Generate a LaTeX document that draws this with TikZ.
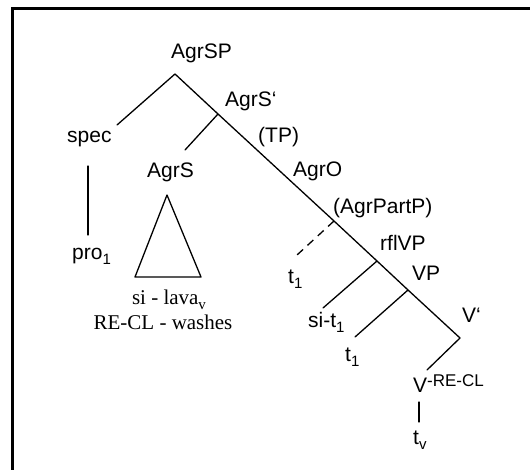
\documentclass[tikz,border=0pt]{standalone}
\usepackage{fontspec}
\setmainfont{Liberation Sans}
\newfontfamily\trserif{Liberation Serif}
\newcommand\trsize{\fontsize{21}{25}\selectfont}
\newcommand\trsub[1]{\raisebox{-5pt}{\fontsize{15}{15}\selectfont #1}}
\begin{document}
\begin{tikzpicture}[x=1pt,y=-1pt,
  lbl/.style={inner sep=0pt, anchor=base west, font=\trsize},
  gl/.style={inner sep=0pt, anchor=base, font=\trserif\trsize},
  edge/.style={line width=1.3pt, line cap=round, line join=round}]
\useasboundingbox (0,0) rectangle (530,470);
\draw[line width=2.6pt] (12.5,472) -- (12.5,8.5) -- (532,8.5);
% labels
\node[lbl] (agrsp) at (171,59) {AgrSP};
\node[lbl] (spec) at (67,143) {spec};
\node[lbl] (pro) at (72,260) {pro\trsub{1}};
\node[lbl] (agrsbar) at (225,107) {AgrS‘};
\node[lbl] (agrs) at (147,178) {AgrS};
\node[lbl] (tp) at (258,143) {(TP)};
\node[lbl] (agro) at (293,177) {AgrO};
\node[lbl] (agrpart) at (333,214) {(AgrPartP)};
\node[lbl] (rflvp) at (380,251) {rflVP};
\node[lbl] (vp) at (412,281) {VP};
\node[lbl] (vbar) at (462,323) {V‘};
\node[lbl] (ta) at (288,284) {t\trsub{1}};
\node[lbl] (sit) at (308,327) {si-t\trsub{1}};
\node[lbl] (tb) at (345,361) {t\trsub{1}};
\node[lbl] (v) at (413,392) {V\raisebox{6pt}{\fontsize{17}{17}\selectfont -RE-CL}};
\node[lbl] (tv) at (413,444) {t\trsub{v}};
\node[gl] (lava) at (169,305) {si - lava\trsub{v}};
\node[gl] (gloss) at (163,330) {RE-CL - washes};
% junctions
\coordinate (r) at (175,74);
\coordinate (j1) at (218,114);
\coordinate (jd) at (334,221);
\coordinate (j2) at (377,261);
\coordinate (j3) at (408,290);
\coordinate (vb) at (460,338);
\coordinate (specend) at (117,125);
\coordinate (agrsend) at (185,150);
\coordinate (sp1) at (88,166);
\coordinate (sp2) at (88,235);
\coordinate (ta1) at (167,195);
\coordinate (ta2) at (135,277);
\coordinate (ta3) at (201,277);
\coordinate (dend) at (297,255);
\coordinate (siend) at (323,308);
\coordinate (tbend) at (355,337);
\coordinate (vend) at (427,370);
\coordinate (vl1) at (419,402);
\coordinate (vl2) at (419,422);
% edges
\draw[edge] (r) -- (j1) -- (jd) -- (j2) -- (j3) -- (vb) -- (vend);
\draw[edge] (r) -- (specend);
\draw[edge] (j1) -- (agrsend);
\draw[edge] (sp1) -- (sp2);
\draw[edge] (ta1) -- (ta2) -- (ta3) -- cycle;
\draw[edge, line cap=butt, dash pattern=on 8pt off 6pt] (jd) -- (dend);
\draw[edge] (j2) -- (siend);
\draw[edge] (j3) -- (tbend);
\draw[edge] (vl1) -- (vl2);
\end{tikzpicture}
\end{document}
